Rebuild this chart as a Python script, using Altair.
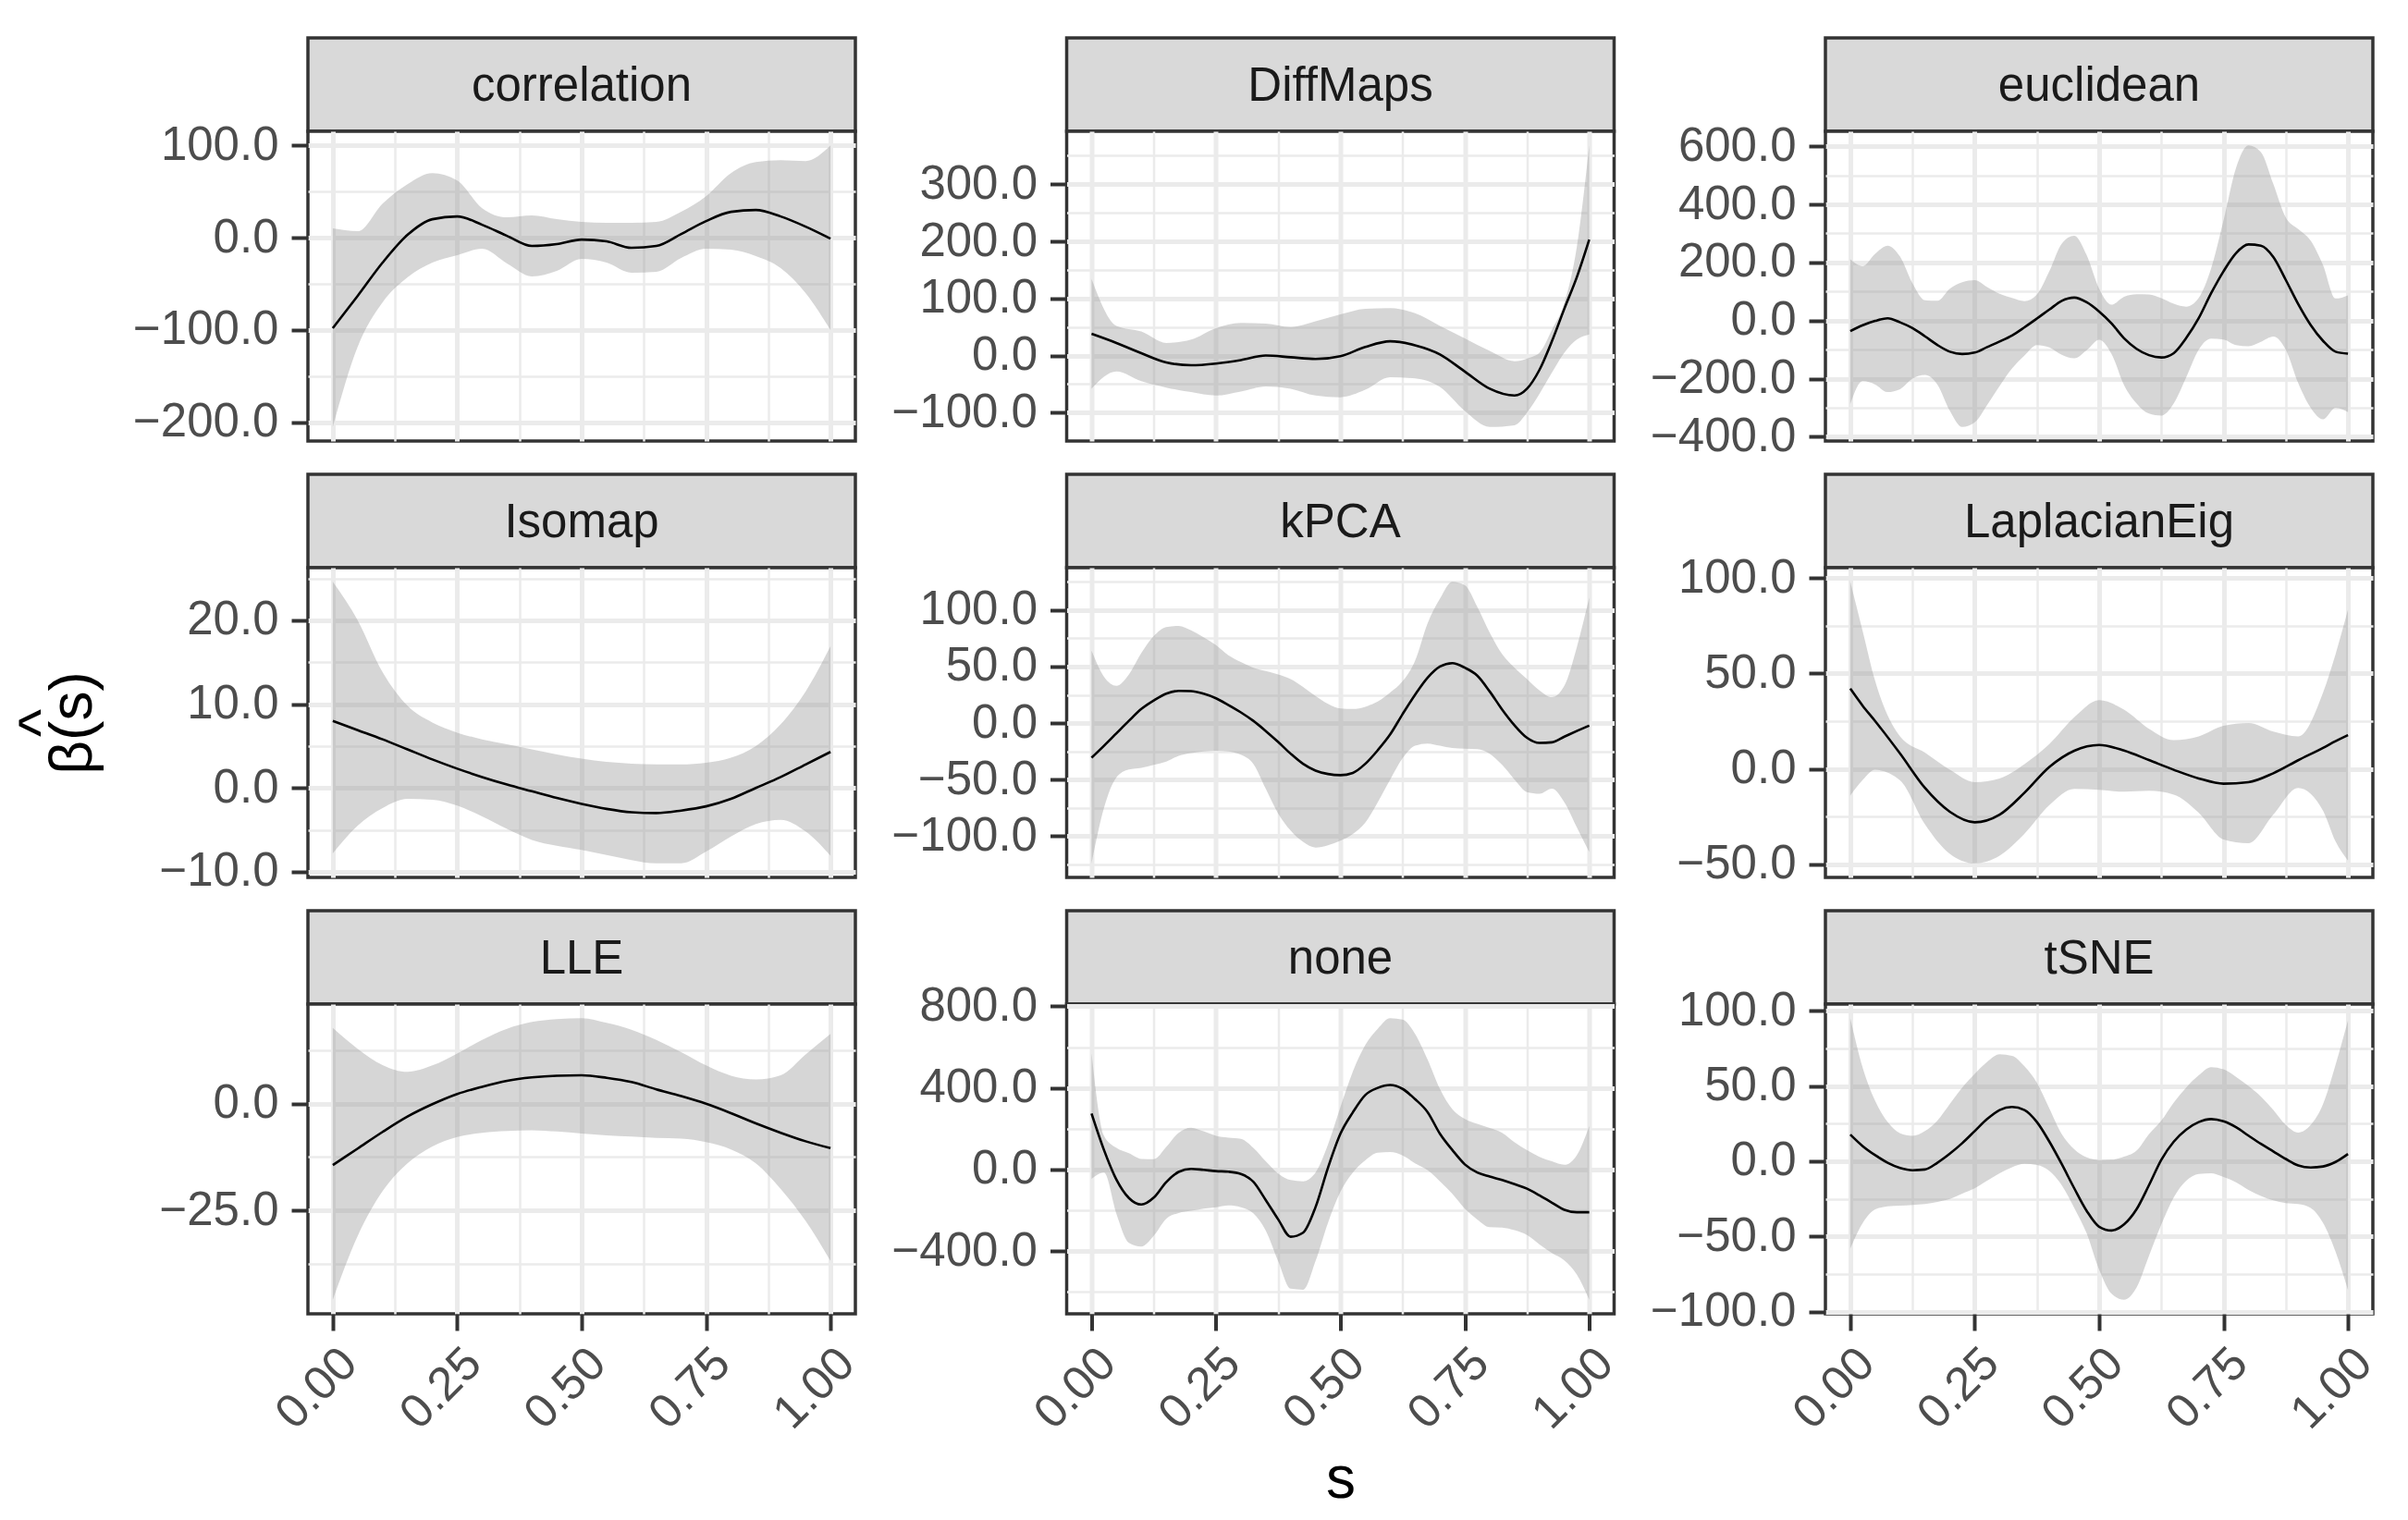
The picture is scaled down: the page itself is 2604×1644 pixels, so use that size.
import altair as alt
import pandas as pd

FONT = "Liberation Sans"
W, H, SH, GAP = 592, 335, 101, 36

# ---------------- data ----------------
S20 = [0.0, 0.05, 0.1, 0.15, 0.2, 0.25, 0.3, 0.35, 0.4, 0.45, 0.5,
       0.55, 0.6, 0.65, 0.7, 0.75, 0.8, 0.85, 0.9, 0.95, 1.0]
S40 = [0.0, 0.025, 0.05, 0.075, 0.1, 0.125, 0.15, 0.175, 0.2, 0.225, 0.25,
       0.275, 0.3, 0.325, 0.35, 0.375, 0.4, 0.425, 0.45, 0.475, 0.5,
       0.525, 0.55, 0.575, 0.6, 0.625, 0.65, 0.675, 0.7, 0.725, 0.75,
       0.775, 0.8, 0.825, 0.85, 0.875, 0.9, 0.925, 0.95, 0.975, 1.0]
S_DIFF = [0.0, 0.05, 0.1, 0.15, 0.2, 0.25, 0.3, 0.35, 0.4, 0.45, 0.5,
          0.55, 0.6, 0.65, 0.7, 0.75, 0.8, 0.85, 0.875, 0.9, 0.925, 0.95, 0.975, 1.0]
S_LAP = [0.0, 0.025, 0.05, 0.1, 0.15, 0.2, 0.25, 0.3, 0.35, 0.4, 0.45, 0.5,
         0.55, 0.6, 0.65, 0.7, 0.75, 0.8, 0.85, 0.9, 0.95, 0.975, 1.0]

corr_est = [-98, -63, -27, 3, 20, 23, 14, 2, -9, -7, -2, -4, -11, -9, 4, 18, 28, 30, 23, 12, -1]
corr_hi = [10, 7, 37, 58, 70, 62, 32, 22, 24, 20, 17, 16, 16, 17, 28, 45, 70, 82, 84, 83, 100]
corr_lo = [-205, -118, -70, -43, -27, -19, -12, -28, -42, -36, -23, -27, -38, -37, -22, -12, -13, -20, -33, -60, -100]

diff_est = [38, 22, 4, -12, -17, -14, -8, 0, -3, -6, -1, 15, 25, 18, 2, -28, -58, -70, -58, -25, 25, 82, 137, 203]
diff_hi = [134, 52, 42, 22, 28, 48, 57, 56, 50, 60, 72, 82, 83, 74, 52, 30, 8, -10, -5, 5, 45, 92, 190, 368]
diff_lo = [-58, -28, -45, -56, -64, -70, -63, -54, -58, -70, -73, -60, -38, -40, -55, -97, -125, -122, -100, -67, -30, 5, 28, 37]

eucl_est = [-36, -16, -1, 8, -6, -26, -54, -84, -107, -115, -110, -91, -72, -51, -23, 7, 38, 68, 79, 63, 31,
            -10, -61, -97, -119, -127, -112, -60, 8, 94, 170, 232, 262, 258, 219, 140, 57, -15, -70, -107, -114]
eucl_hi = [211, 188, 230, 258, 220, 128, 70, 68, 110, 132, 139, 115, 92, 78, 67, 90, 170, 265, 292, 225, 110,
           55, 82, 91, 90, 77, 58, 48, 78, 180, 345, 525, 603, 580, 470, 355, 315, 275, 190, 76, 87]
eucl_lo = [-287, -208, -220, -246, -236, -200, -187, -220, -310, -366, -350, -290, -225, -165, -120, -84, -92,
           -118, -130, -102, -66, -115, -222, -285, -320, -327, -285, -195, -100, -62, -65, -84, -88, -73, -55,
           -100, -215, -300, -340, -300, -315]

iso_est = [8, 6.9, 5.8, 4.6, 3.4, 2.3, 1.3, 0.4, -0.4, -1.2, -1.9, -2.5, -2.9, -3.0, -2.7, -2.2, -1.3, 0, 1.3, 2.8, 4.3]
iso_hi = [24.6, 20, 13.8, 9.8, 7.8, 6.6, 5.8, 5.2, 4.6, 4.0, 3.5, 3.1, 2.9, 2.8, 2.8, 3.0, 3.6, 5, 7.6, 11.5, 16.9]
iso_lo = [-7.8, -4.5, -2.4, -1.3, -1.4, -2.1, -3.4, -4.9, -6.2, -6.9, -7.4, -8, -8.6, -9, -9, -7.6, -5.8, -4.3, -3.8, -5.2, -8.1]

kpca_est = [-30.6, -20, -9, 2, 12.5, 20, 26, 28.5, 28.3, 26, 22, 16, 9.5, 2, -7, -16.7, -27, -36, -42, -45, -46,
            -44, -36, -24, -10, 8, 25, 40, 50, 53, 49, 42, 28, 12, -2, -13, -17.5, -17, -12, -7, -2.2]
kpca_hi = [64, 41, 33, 43, 62, 77, 85, 86, 82, 76, 69, 60, 54, 49, 46, 43, 39, 32, 24, 17, 13,
           12.5, 14.5, 19, 27, 37, 55, 88, 110, 125, 122, 103, 80, 61, 49, 39, 29, 23, 33, 67, 111]
kpca_lo = [-124, -75, -48, -41, -39.5, -37, -34, -29, -26.5, -25, -24.5, -25, -28, -36, -58, -80, -95, -105, -110,
           -108, -104, -98, -88, -70, -50, -31, -20, -18, -20, -22, -22.5, -23, -27, -37, -50, -61, -62.5, -58,
           -70, -92, -114]

lap_est = [42, 33, 25, 8, -10, -22.5, -28, -24, -12.5, 1, 9.5, 12.5, 9.6, 4.6, -0.5, -5, -7.8, -7, -2.3, 4.5, 11, 14.5, 17.7]
lap_hi = [98, 72, 46, 17, 8.5, -0.5, -7, -5, 2.5, 13, 27, 36, 31, 21, 15, 17, 22.5, 24, 19.5, 17, 40, 60, 83.4]
lap_lo = [-14, -5.8, -0.5, -6, -29, -44.5, -49.5, -45.5, -34, -19, -10.5, -11, -12, -11.5, -13.5, -23, -37, -39, -24, -10, -22, -38, -48]

lle_est = [-14.4, -10.5, -6.6, -3, -0.1, 2.3, 4, 5.4, 6.2, 6.6, 6.7, 6.1, 5.1, 3.4, 1.8, 0, -2.2, -4.6, -6.8, -8.8, -10.4]
lle_hi = [17.8, 12.9, 9.1, 7.5, 9, 11.8, 15, 17.6, 19.2, 19.9, 20.1, 19, 17.4, 15, 12.1, 9, 6.6, 5.7, 6.7, 11.6, 16.4]
lle_lo = [-46, -31, -20.5, -14, -10, -7.8, -6.8, -6.4, -6.2, -6.5, -7, -7.4, -7.7, -8, -8.2, -9, -10.7, -14, -20, -27.5, -36.9]

none_est = [274, 95, -50, -140, -172, -138, -62, -12, 3, -2, -8, -11, -22, -60, -150, -245, -330, -310, -185, 8,
            175, 280, 365, 400, 414, 395, 345, 282, 175, 95, 25, -15, -35, -52, -72, -94, -127, -163, -198, -210, -210]
none_hi = [570, 165, 106, 80, 52, 50, 110, 180, 205, 187, 165, 156, 150, 106, 40, -20, -52, -58, -15, 122,
           305, 480, 610, 690, 742, 735, 665, 540, 395, 295, 248, 224, 203, 180, 133, 95, 62, 40, 23, 70, 213]
none_lo = [-46, -15, -218, -360, -378, -325, -242, -214, -203, -192, -185, -176, -185, -215, -300, -450, -585,
           -590, -450, -262, -110, -15, 45, 82, 85, 68, 30, -3, -58, -120, -192, -245, -283, -285, -298, -322,
           -368, -410, -446, -515, -639]

tsne_est = [17.7, 10, 4, -1, -4.5, -6, -5.5, -1, 5, 12, 20, 28, 34, 36, 34, 26, 13, -2, -18, -33, -43.5,
            -46, -42, -32, -16, 1, 13, 21, 26, 28, 26.5, 22.6, 17, 11.5, 6.5, 1.5, -2.8, -4.2, -3.5, -0.5, 4.8]
tsne_hi = [95, 62, 40, 26, 18.5, 16.8, 20, 27, 38, 49, 58, 66, 71, 70, 63, 52, 35, 18, 8, 2.5, 0.8,
           1, 3, 7, 18, 27, 39, 49, 57, 62.5, 61, 56, 50, 43, 34, 24, 19, 24, 38, 64, 93.5]
tsne_lo = [-58, -41, -32, -30, -29.5, -29, -28.5, -27, -25, -21.5, -18, -13, -8, -4, -1.8, -2.5, -6.5, -16,
           -31, -48, -72, -88, -92, -84, -63, -42, -24, -13, -8.5, -8, -10.5, -14, -19, -23, -26, -27.8, -28.5,
           -31, -41, -60, -85.5]

PANELS = [
    ("correlation", S20, corr_est, corr_lo, corr_hi, 100),
    ("DiffMaps", S_DIFF, diff_est, diff_lo, diff_hi, 100),
    ("euclidean", S40, eucl_est, eucl_lo, eucl_hi, 200),
    ("Isomap", S20, iso_est, iso_lo, iso_hi, 10),
    ("kPCA", S40, kpca_est, kpca_lo, kpca_hi, 50),
    ("LaplacianEig", S_LAP, lap_est, lap_lo, lap_hi, 50),
    ("LLE", S20, lle_est, lle_lo, lle_hi, 25),
    ("none", S40, none_est, none_lo, none_hi, 400),
    ("tSNE", S40, tsne_est, tsne_lo, tsne_hi, 50),
]

X_BREAKS = [0.0, 0.125, 0.25, 0.375, 0.5, 0.625, 0.75, 0.875, 1.0]
Y_TITLE = ["^\u00a0\u00a0\u00a0\u00a0", "β(s)"]
X_TITLE = "s"

GRID = "#EBEBEB"
DARK = "#333333"
LABEL = "#4D4D4D"


def cond(test, yes, no):
    return {"condition": {"test": test, "value": yes}, "value": no}


def make_plot(s, est, lo, hi, step, bottom, xtitle=None, ytitle=None):
    df = pd.DataFrame({"s": s, "est": est, "lo": lo, "hi": hi})
    ymin, ymax = min(lo), max(hi)
    pad = 0.05 * (ymax - ymin)
    dom = [ymin - pad, ymax + pad]
    half = step / 2.0
    k0 = int(dom[0] // half) - 1
    k1 = int(dom[1] // half) + 1
    yvals = [k * half for k in range(k0, k1 + 1) if dom[0] <= k * half <= dom[1]]
    ytest = f"abs(datum.value/{step} - round(datum.value/{step})) < 1e-6"
    xtest = "abs(datum.value*4 - round(datum.value*4)) < 1e-6"

    yaxis_kw = dict(
        values=yvals, format=".1f", labelExpr=f"({ytest}) ? datum.label : ''",
        domain=False, grid=True, gridColor=GRID, gridWidth=cond(ytest, 5, 2.5),
        ticks=True, tickSize=18, tickWidth=4, tickColor=DARK, tickOpacity=cond(ytest, 1, 0),
        labelFont=FONT, labelFontSize=51, labelColor=LABEL, labelPadding=14,
        labelOverlap=False, labelFlush=False,
    )
    if ytitle:
        yaxis_kw.update(title=ytitle, titleFont=FONT, titleFontSize=64, titleColor="black",
                        titleFontWeight="normal", titlePadding=60, titleLineHeight=34)
    else:
        yaxis_kw.update(title=None)
    yaxis = alt.Axis(**yaxis_kw)

    if bottom:
        xaxis_kw = dict(
            values=X_BREAKS, format=".2f", labelExpr=f"({xtest}) ? datum.label : ''",
            domain=False, grid=True, gridColor=GRID, gridWidth=cond(xtest, 5, 2.5),
            ticks=True, tickSize=18, tickWidth=4, tickColor=DARK, tickOpacity=cond(xtest, 1, 0),
            labelFont=FONT, labelFontSize=51, labelColor=LABEL, labelAngle=315,
            labelAlign="right", labelBaseline="top", labelPadding=10,
            labelOverlap=False, labelFlush=False,
        )
        if xtitle:
            xaxis_kw.update(title=xtitle, titleFont=FONT, titleFontSize=64, titleColor="black",
                            titleFontWeight="normal", titlePadding=14)
        else:
            xaxis_kw.update(title=None)
    else:
        xaxis_kw = dict(values=X_BREAKS, labels=False, ticks=False, domain=False, grid=True,
                        gridColor=GRID, gridWidth=cond(xtest, 5, 2.5), title=None)
    xaxis = alt.Axis(**xaxis_kw)

    xenc = alt.X("s:Q", scale=alt.Scale(domain=[-0.05, 1.05], nice=False, zero=False), axis=xaxis)
    yscale = alt.Scale(domain=dom, nice=False, zero=False)

    band = alt.Chart(df).mark_area(color="#999999", opacity=0.4, interpolate="monotone").encode(
        x=xenc, y=alt.Y("lo:Q", scale=yscale, axis=yaxis), y2="hi:Q")
    line = alt.Chart(df).mark_line(color="black", strokeWidth=2.6, interpolate="monotone").encode(
        x=xenc, y=alt.Y("est:Q", scale=yscale, axis=yaxis))
    return alt.layer(band, line).properties(
        width=W, height=H,
        view=alt.ViewBackground(fill="white", stroke=DARK, strokeWidth=3.5))


def make_strip(name, top):
    base = alt.Chart(alt.Data(values=[{"label": name}]))
    box = base.mark_rect(fill="#D9D9D9", stroke=DARK, strokeWidth=3.5).encode(
        x=alt.value(0), x2=alt.value(W), y=alt.value(top), y2=alt.value(top + SH))
    txt = base.mark_text(font=FONT, fontSize=51, color="#1A1A1A", baseline="middle",
                         align="center", dy=2).encode(
        text="label:N", x=alt.value(W / 2), y=alt.value(top + SH / 2))
    return alt.layer(box, txt).properties(
        width=W, height=top + SH,
        view=alt.ViewBackground(strokeOpacity=0, fillOpacity=0))


cells = []
for r in range(3):
    top = 0 if r == 0 else GAP
    for c in range(3):
        name = PANELS[3 * r + c][0]
        cells.append(make_strip(name, top))
    for c in range(3):
        name, s, est, lo, hi, step = PANELS[3 * r + c]
        cells.append(make_plot(
            s, est, lo, hi, step, bottom=(r == 2),
            xtitle=X_TITLE if name == "none" else None,
            ytitle=Y_TITLE if name == "Isomap" else None))

chart = alt.concat(*cells, columns=3, spacing={"row": 0, "column": 228.5},
                   bounds="flush", align="each").properties(
    padding={"left": 4, "top": 31, "right": 5, "bottom": 5},
    background="white",
).configure(font=FONT)

chart.save("out.html", embed_options={"renderer": "svg", "actions": False})
